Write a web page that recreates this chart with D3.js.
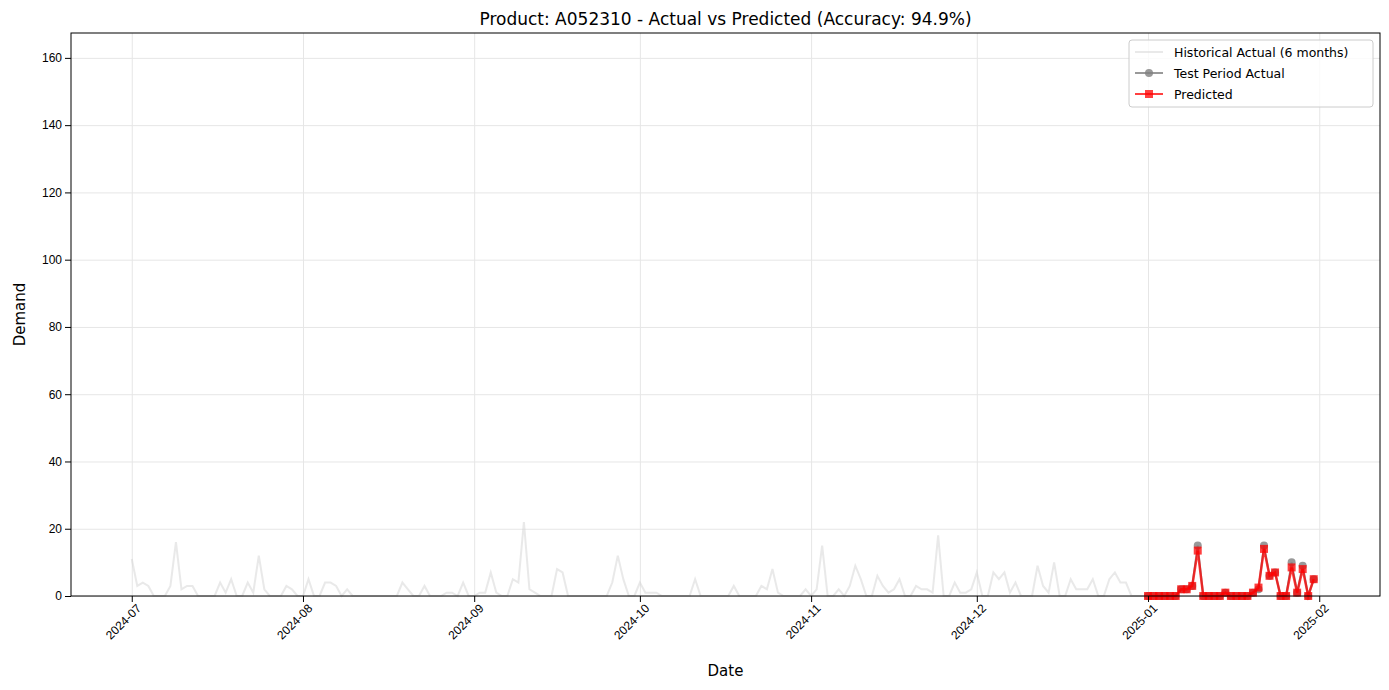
<!DOCTYPE html>
<html>
<head>
<meta charset="utf-8">
<script src="https://cdn.jsdelivr.net/npm/d3@7"></script>
<style>
  body { margin: 0; background: #fff; font-family: "DejaVu Sans", sans-serif; }
  .grid line { stroke: #e6e6e6; }
  .grid path { display: none; }
  .axis text { font-size: 12px; fill: #000; }
</style>
</head>
<body>
<svg id="chart" width="1389" height="690"></svg>
<script>
// daily demand, 2024-07-01 .. 2024-12-31
const histValues = [
  11,3,4,3,0,0,0,3,16,2,3,3,0,0,0,0,4,1,5,0,0,4,1,12,2,0,0,0,3,2,0,
  0,5,0,0,4,4,3,0,2,0,0,0,0,0,0,0,0,0,4,2,0,0,3,0,0,0,1,1,0,4,0,
  0,1,1,7,1,0,0,5,4,22,2,1,0,0,0,8,7,0,0,0,0,0,0,0,0,4,12,5,0,0,
  4,1,1,1,0,0,0,0,0,0,5,0,0,0,0,0,0,3,0,0,0,0,3,2,8,1,0,0,0,0,2,0,2,
  15,0,0,2,0,3,9,5,0,0,6,3,1,2,5,0,0,3,2,2,1,18,0,0,4,1,1,2,7,0,
  0,7,5,7,1,4,0,0,0,9,3,1,10,0,0,5,2,2,2,5,0,0,5,7,4,4,0,0,0,0
];
// 2025-01-01 .. 2025-01-31
const testActual = [0,0,0,0,0,0,2,2,3,15,0,0,0,0,1,0,0,0,0,1,2,15,6,7,0,0,10,1,9,0,5];
const predicted  = [0,0,0,0,0,0,2,2,3,13.5,0,0,0,0,1,0,0,0,0,1,2.5,14,6,7,0,0,8.5,1,8,0,5];
const yTicks = [0,20,40,60,80,100,120,140,160];
const xTickDates = ["2024-07-01","2024-08-01","2024-09-01","2024-10-01","2024-11-01","2024-12-01","2025-01-01","2025-02-01"];

const day = (start, i) => d3.timeDay.offset(new Date(start + "T00:00:00"), i);
const hist = histValues.map((v, i) => ({d: day("2024-07-01", i), v}));
const act = testActual.map((v, i) => ({d: day("2025-01-01", i), v}));
const pred = predicted.map((v, i) => ({d: day("2025-01-01", i), v}));

const svg = d3.select("#chart");
const m = {left: 71, right: 9, top: 33, bottom: 94};
const W = 1389 - m.left - m.right, H = 690 - m.top - m.bottom;
const g = svg.append("g").attr("transform", `translate(${m.left},${m.top})`);

const x = d3.scaleTime()
  .domain([d3.timeDay.offset(hist[0].d, -10.5), d3.timeDay.offset(hist[0].d, 226.6)])
  .range([0, W]);
const y = d3.scaleLinear().domain([0, 167.4]).range([H, 0]);
const xt = xTickDates.map(s => new Date(s + "T00:00:00"));

g.append("g").attr("class", "grid").attr("transform", `translate(0,${H})`)
  .call(d3.axisBottom(x).tickValues(xt).tickSize(-H).tickFormat(""));
g.append("g").attr("class", "grid")
  .call(d3.axisLeft(y).tickValues(yTicks).tickSize(-W).tickFormat(""));

const line = d3.line().x(d => x(d.d)).y(d => y(d.v));
g.append("path").datum(hist).attr("fill", "none").attr("stroke", "#d3d3d3")
  .attr("stroke-opacity", 0.5).attr("stroke-width", 2).attr("d", line);
g.append("path").datum(act).attr("fill", "none").attr("stroke", "#808080")
  .attr("stroke-opacity", 0.8).attr("stroke-width", 2).attr("d", line);
g.selectAll("circle.act").data(act).enter().append("circle")
  .attr("cx", d => x(d.d)).attr("cy", d => y(d.v)).attr("r", 4)
  .attr("fill", "#808080").attr("fill-opacity", 0.8);
g.append("path").datum(pred).attr("fill", "none").attr("stroke", "#ff0000")
  .attr("stroke-opacity", 0.75).attr("stroke-width", 2.5).attr("d", line);
g.selectAll("rect.pred").data(pred).enter().append("rect")
  .attr("x", d => x(d.d) - 4).attr("y", d => y(d.v) - 4).attr("width", 8).attr("height", 8)
  .attr("fill", "#ff0000").attr("fill-opacity", 0.75);

g.append("rect").attr("width", W).attr("height", H).attr("fill", "none").attr("stroke", "#000");

const xa = g.append("g").attr("class", "axis").attr("transform", `translate(0,${H})`)
  .call(d3.axisBottom(x).tickValues(xt).tickFormat(d3.timeFormat("%Y-%m")).tickSizeOuter(0));
xa.selectAll("text").attr("text-anchor", "end").attr("dx", "-0.2em").attr("dy", "0.6em")
  .attr("transform", "rotate(-45)");
g.append("g").attr("class", "axis")
  .call(d3.axisLeft(y).tickValues(yTicks).tickSizeOuter(0));
g.selectAll(".axis path").remove();

svg.append("text").attr("x", m.left + W / 2).attr("y", 25).attr("text-anchor", "middle")
  .attr("font-size", 17).text("Product: A052310 - Actual vs Predicted (Accuracy: 94.9%)");
svg.append("text").attr("x", m.left + W / 2).attr("y", 676).attr("text-anchor", "middle")
  .attr("font-size", 15).text("Date");
svg.append("text").attr("transform", `translate(25,${m.top + H / 2}) rotate(-90)`)
  .attr("text-anchor", "middle").attr("font-size", 15).text("Demand");

// legend
const lg = svg.append("g").attr("transform", "translate(1129,40)");
lg.append("rect").attr("width", 244).attr("height", 67).attr("rx", 3)
  .attr("fill", "#fff").attr("fill-opacity", 0.8).attr("stroke", "#ccc");
const items = [
  {t: "Historical Actual (6 months)", c: "#d3d3d3", o: 0.5, mk: null},
  {t: "Test Period Actual", c: "#808080", o: 0.8, mk: "c"},
  {t: "Predicted", c: "#ff0000", o: 0.75, mk: "s"}
];
items.forEach((it, i) => {
  const yy = 12 + i * 21;
  lg.append("line").attr("x1", 6).attr("x2", 34).attr("y1", yy).attr("y2", yy)
    .attr("stroke", it.c).attr("stroke-opacity", it.o).attr("stroke-width", 2);
  if (it.mk === "c") lg.append("circle").attr("cx", 20).attr("cy", yy).attr("r", 4)
    .attr("fill", it.c).attr("fill-opacity", it.o);
  if (it.mk === "s") lg.append("rect").attr("x", 16).attr("y", yy - 4).attr("width", 8).attr("height", 8)
    .attr("fill", it.c).attr("fill-opacity", it.o);
  lg.append("text").attr("x", 45).attr("y", yy + 4.5).attr("font-size", 12.5).text(it.t);
});
</script>
</body>
</html>
